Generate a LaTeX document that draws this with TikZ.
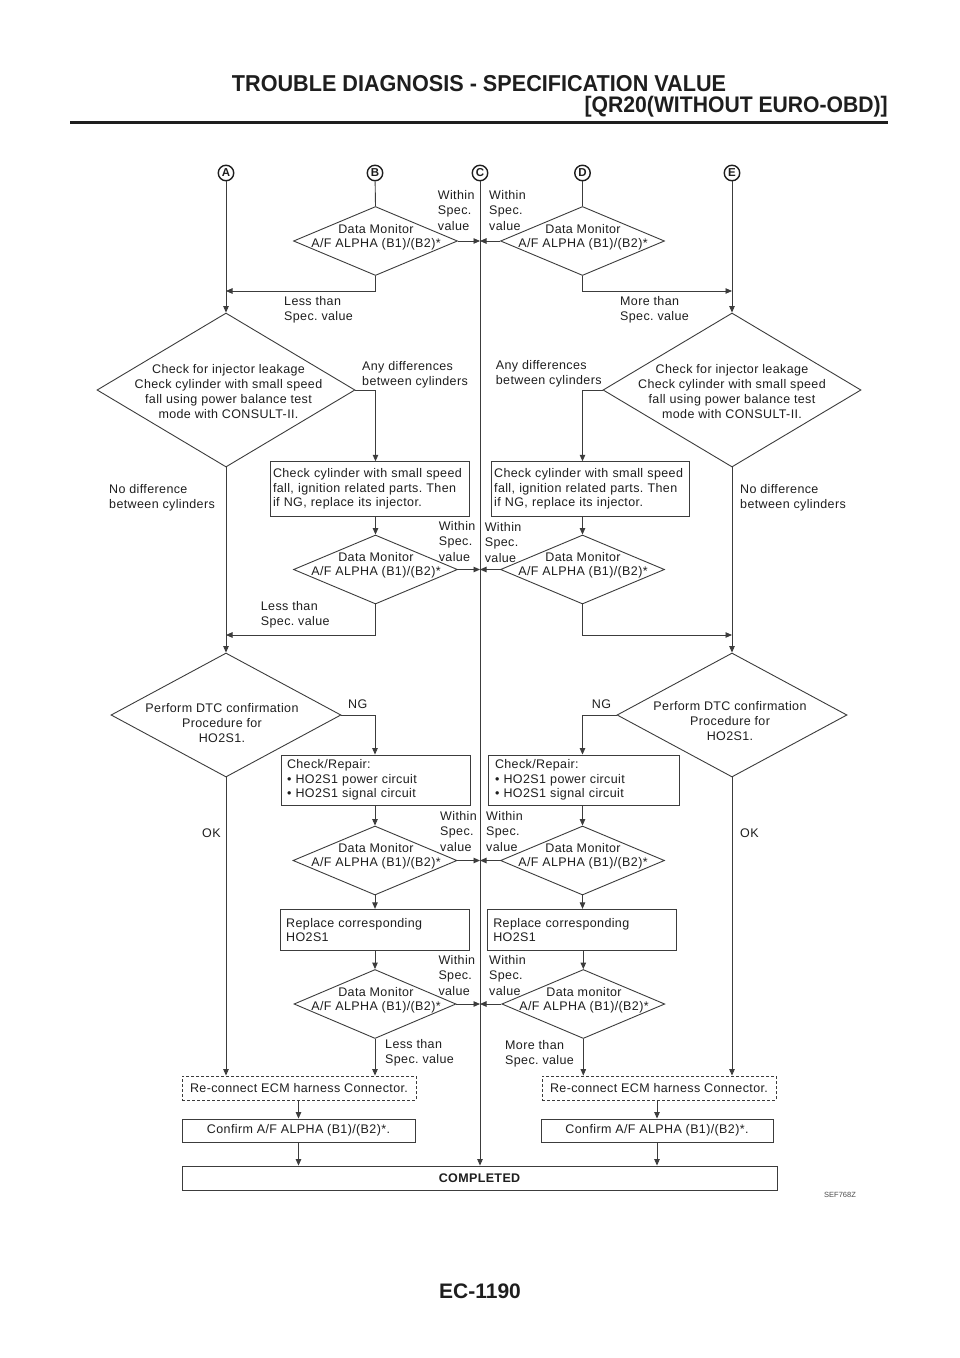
\documentclass[tikz,border=0pt]{standalone}
\usepackage{fontspec}
\setmainfont{Liberation Sans}
\newfontfamily\dfont[LetterSpace=3]{Liberation Sans}
\newfontfamily\hfont[FakeStretch=0.94]{Liberation Sans}
\usetikzlibrary{shapes.geometric,arrows.meta}
\definecolor{lc}{HTML}{3C3C3C}
\definecolor{tc}{HTML}{1E1E1E}
\frenchspacing
\begin{document}
\begin{tikzpicture}[x=1pt,y=-1pt,
 line/.style={draw=lc, line width=0.9pt},
 arr/.style={line, -{Triangle[length=6.5pt,width=5.5pt]}},
 dia/.style 2 args={shape=diamond, draw=lc, line width=0.9pt, inner sep=0pt, minimum width=#1, minimum height=#2},
 dmt/.style={font=\dfont\fontsize{12.5}{14}\selectfont, text=tc, align=center, inner sep=0pt},
 bigt/.style={font=\dfont\fontsize{12.5}{15}\selectfont, text=tc, align=center, inner sep=0pt},
 lbl/.style={font=\dfont\fontsize{12.5}{15.5}\selectfont, text=tc, align=left, inner sep=0pt, anchor=north west},
 box/.style n args={3}{draw=lc, line width=0.9pt, font=\dfont\fontsize{12.5}{14.5}\selectfont, text=tc, align=left, text width=#1, inner xsep=#2, inner ysep=0pt, minimum height=#3},
 cbox/.style 2 args={draw=lc, line width=0.9pt, font=\dfont\fontsize{12.5}{14.5}\selectfont, text=tc, inner sep=0pt, minimum width=#1, minimum height=#2},
 circ/.style={circle, draw=tc, line width=1.4pt, inner sep=0pt, minimum size=15.5pt, font=\bfseries\fontsize{11.5}{11.5}\selectfont, text=tc}]
\fill[white] (0,0) rectangle (960,1358);
\useasboundingbox (0,0) rectangle (960,1358);
% header
\node[font=\hfont\bfseries\fontsize{23}{23}\selectfont, text=tc, anchor=base, inner sep=0pt] (title) at (479,91) {TROUBLE DIAGNOSIS - SPECIFICATION VALUE};
\node[font=\hfont\bfseries\fontsize{22.5}{22.5}\selectfont, text=tc, anchor=base east, inner sep=0pt] (sub) at (888,112) {[QR20(WITHOUT EURO-OBD)]};
\coordinate (r1) at (70,122); \coordinate (r2) at (888,122);
\draw[line width=3pt, tc] (r1) -- (r2);
% footer
\node[font=\bfseries\fontsize{21}{21}\selectfont, text=tc, anchor=base, inner sep=0pt] (page) at (480,1298) {EC-1190};
\node[font=\fontsize{7.5}{8}\selectfont, text=black!70, inner sep=0pt] (sef) at (840,1195) {SEF768Z};
% circles
\node[circ] (A) at (226,173) {A};
\node[circ] (B) at (375,173) {B};
\node[circ] (C) at (480,173) {C};
\node[circ] (D) at (582.5,173) {D};
\node[circ] (E) at (732,173) {E};
% level 1
\node[dia={164pt}{69pt}] (d1) at (375.5,241) {};
\node[dmt] (d1t) at (376,237.5) {Data Monitor\\A/F ALPHA (B1)/(B2)*};
\node[dia={164pt}{69pt}] (d2) at (582.5,241) {};
\node[dmt] (d2t) at (583,237.5) {Data Monitor\\A/F ALPHA (B1)/(B2)*};
% level 2
\node[dia={258pt}{154pt}] (bdL) at (226,390) {};
\node[bigt] (bdLt) at (228.5,392) {Check for injector leakage\\Check cylinder with small speed\\fall using power balance test\\mode with CONSULT-II.};
\node[dia={258pt}{154pt}] (bdR) at (732,390) {};
\node[bigt] (bdRt) at (732,391.5) {Check for injector leakage\\Check cylinder with small speed\\fall using power balance test\\mode with CONSULT-II.};
\node[box={193pt}{3pt}{55pt}] (b1L) at (369.5,489.2) {Check cylinder with small speed\\fall, ignition related parts. Then\\if NG, replace its injector.};
\node[box={192.3pt}{2.5pt}{55pt}] (b1R) at (590.3,489.2) {Check cylinder with small speed\\fall, ignition related parts. Then\\if NG, replace its injector.};
% level 3
\node[dia={164pt}{69pt}] (d3L) at (375.5,569.5) {};
\node[dmt] (d3Lt) at (376,565.5) {Data Monitor\\A/F ALPHA (B1)/(B2)*};
\node[dia={164pt}{69pt}] (d3R) at (582.5,569.5) {};
\node[dmt] (d3Rt) at (583,565.5) {Data Monitor\\A/F ALPHA (B1)/(B2)*};
% level 4
\node[dia={230pt}{124pt}] (DTCL) at (226,715) {};
\node[bigt] (DTCLt) at (222,723) {Perform DTC confirmation\\Procedure for\\HO2S1.};
\node[dia={230pt}{124pt}] (DTCR) at (732,715) {};
\node[bigt] (DTCRt) at (730,721) {Perform DTC confirmation\\Procedure for\\HO2S1.};
\node[box={177pt}{6pt}{50pt}] (b2L) at (375.5,780) {Check/Repair:\\• HO2S1 power circuit\\• HO2S1 signal circuit};
\node[box={177pt}{7pt}{50pt}] (b2R) at (583.5,780) {Check/Repair:\\• HO2S1 power circuit\\• HO2S1 signal circuit};
% level 5
\node[dia={164pt}{69pt}] (d5L) at (375,860.5) {};
\node[dmt] (d5Lt) at (376,856.5) {Data Monitor\\A/F ALPHA (B1)/(B2)*};
\node[dia={164pt}{69pt}] (d5R) at (582.5,860.5) {};
\node[dmt] (d5Rt) at (583,856.5) {Data Monitor\\A/F ALPHA (B1)/(B2)*};
\node[box={177pt}{6pt}{41.4pt}] (b3L) at (374.7,930) {Replace corresponding\\HO2S1};
\node[box={177.4pt}{6pt}{41.4pt}] (b3R) at (582,930) {Replace corresponding\\HO2S1};
% level 6
\node[dia={162pt}{69pt}] (d6L) at (375,1004) {};
\node[dmt] (d6Lt) at (376,1000.5) {Data Monitor\\A/F ALPHA (B1)/(B2)*};
\node[dia={163pt}{69pt}] (d6R) at (583.3,1004) {};
\node[dmt] (d6Rt) at (584,1000.5) {Data monitor\\A/F ALPHA (B1)/(B2)*};
% bottom boxes
\node[cbox={234pt}{24pt}, dash pattern=on 3pt off 2pt] (rcL) at (299,1088) {Re-connect ECM harness Connector.};
\node[cbox={234pt}{24pt}, dash pattern=on 3pt off 2pt] (rcR) at (659,1088) {Re-connect ECM harness Connector.};
\node[cbox={233pt}{23pt}] (cfL) at (298.5,1130.5) {Confirm A/F ALPHA (B1)/(B2)*.};
\node[cbox={232pt}{23pt}] (cfR) at (657,1130.5) {Confirm A/F ALPHA (B1)/(B2)*.};
\node[cbox={595pt}{24pt}] (comp) at (479.5,1178) {\bfseries COMPLETED};
% labels
\node[lbl] (w1L) at (437.7,190) {Within\\Spec.\\value};
\node[lbl] (w1R) at (489,190) {Within\\Spec.\\value};
\node[lbl] (lt1) at (284,296) {Less than\\Spec. value};
\node[lbl] (mt1) at (620,296) {More than\\Spec. value};
\node[lbl] (adL) at (362,361) {Any differences\\between cylinders};
\node[lbl] (adR) at (495.7,360) {Any differences\\between cylinders};
\node[lbl] (ndL) at (109,484) {No difference\\between cylinders};
\node[lbl] (ndR) at (740,484) {No difference\\between cylinders};
\node[lbl] (w3L) at (438.6,521) {Within\\Spec.\\value};
\node[lbl] (w3R) at (484.6,522) {Within\\Spec.\\value};
\node[lbl] (lt3) at (260.7,601) {Less than\\Spec. value};
\node[lbl] (ngL) at (348,700) {NG};
\node[lbl] (ngR) at (591.7,700) {NG};
\node[lbl] (okL) at (202,829) {OK};
\node[lbl] (okR) at (740,829) {OK};
\node[lbl] (w5L) at (440,811) {Within\\Spec.\\value};
\node[lbl] (w5R) at (486,811) {Within\\Spec.\\value};
\node[lbl] (w6L) at (438.3,955) {Within\\Spec.\\value};
\node[lbl] (w6R) at (489,955) {Within\\Spec.\\value};
\node[lbl] (lt6) at (385,1039) {Less than\\Spec. value};
\node[lbl] (mt6) at (505,1040) {More than\\Spec. value};
% junctions
\coordinate (j1) at (226,291); \coordinate (j2) at (732,291);
\coordinate (j3) at (226,635); \coordinate (j4) at (732,635);
% connectors
\draw[line] (B) -- (d1.north);
\draw[line] (D) -- (d2.north);
\draw[arr] (A) -- (bdL.north);
\draw[arr] (E) -- (bdR.north);
\draw[arr] (C) -- (C |- comp.north);
\draw[arr] (d1.east) -- (d1.east -| C);
\draw[arr] (d2.west) -- (d2.west -| C);
\draw[arr] (d1.south) |- (j1);
\draw[arr] (d2.south) |- (j2);
\draw[arr] (bdL.east) -| (b1L.north -| d3L.north);
\draw[arr] (bdR.west) -| (b1R.north -| d3R.north);
\draw[arr] (b1L.south -| d3L.north) -- (d3L.north);
\draw[arr] (b1R.south -| d3R.north) -- (d3R.north);
\draw[arr] (d3L.east) -- (d3L.east -| C);
\draw[arr] (d3R.west) -- (d3R.west -| C);
\draw[arr] (d3L.south) |- (j3);
\draw[arr] (d3R.south) |- (j4);
\draw[arr] (bdL.south) -- (DTCL.north);
\draw[arr] (bdR.south) -- (DTCR.north);
\draw[arr] (DTCL.east) -| (b2L.north -| d5L.north);
\draw[arr] (DTCR.west) -| (b2R.north -| d5R.north);
\draw[arr] (b2L.south -| d5L.north) -- (d5L.north);
\draw[arr] (b2R.south -| d5R.north) -- (d5R.north);
\draw[arr] (d5L.east) -- (d5L.east -| C);
\draw[arr] (d5R.west) -- (d5R.west -| C);
\draw[arr] (d5L.south) -- (d5L.south |- b3L.north);
\draw[arr] (d5R.south) -- (d5R.south |- b3R.north);
\draw[arr] (b3L.south -| d6L.north) -- (d6L.north);
\draw[arr] (b3R.south -| d6R.north) -- (d6R.north);
\draw[arr] (d6L.east) -- (d6L.east -| C);
\draw[arr] (d6R.west) -- (d6R.west -| C);
\draw[arr] (d6L.south) -- (d6L.south |- rcL.north);
\draw[arr] (d6R.south) -- (d6R.south |- rcR.north);
\draw[arr] (DTCL.south) -- (DTCL.south |- rcL.north);
\draw[arr] (DTCR.south) -- (DTCR.south |- rcR.north);
\draw[arr] (cfL.north |- rcL.south) -- (cfL.north);
\draw[arr] (cfR.north |- rcR.south) -- (cfR.north);
\draw[arr] (cfL.south) -- (cfL.south |- comp.north);
\draw[arr] (cfR.south) -- (cfR.south |- comp.north);
\end{tikzpicture}
\end{document}
